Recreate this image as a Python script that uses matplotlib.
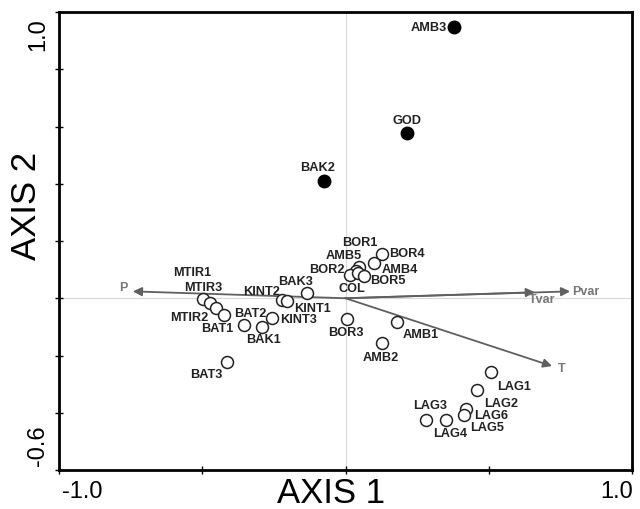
import matplotlib
matplotlib.use("Agg")
import matplotlib.pyplot as plt

plt.rcParams['font.family'] = ['Liberation Sans', 'DejaVu Sans']

# site scores (axis 1, axis 2)
sites = ['AMB3', 'GOD', 'BAK2',
         'BOR1', 'AMB5', 'BOR2', 'COL', 'BOR5', 'AMB4', 'BOR4',
         'BAK3', 'KINT2', 'KINT1', 'KINT3',
         'MTIR1', 'MTIR3', 'MTIR2', 'BAT1', 'BAT2', 'BAK1', 'BAT3',
         'BOR3', 'AMB1', 'AMB2',
         'LAG1', 'LAG2', 'LAG6', 'LAG5', 'LAG3', 'LAG4']
site_x = [0.379, 0.215, -0.075,
          0.047, 0.037, 0.016, 0.044, 0.065, 0.099, 0.127,
          -0.134, -0.222, -0.204, -0.257,
          -0.497, -0.473, -0.452, -0.424, -0.354, -0.291, -0.414,
          0.005, 0.180, 0.127,
          0.508, 0.459, 0.421, 0.414, 0.281, 0.351]
site_y = [0.946, 0.576, 0.408,
          0.108, 0.094, 0.080, 0.087, 0.077, 0.122, 0.154,
          0.017, -0.007, -0.010, -0.070,
          -0.003, -0.017, -0.035, -0.059, -0.094, -0.101, -0.223,
          -0.073, -0.084, -0.157,
          -0.258, -0.321, -0.387, -0.408, -0.426, -0.426]
filled = ['AMB3', 'GOD', 'BAK2']

# environmental variable arrows
env_vars = ['P', 'Pvar', 'Tvar', 'T']
env_x = [-0.742, 0.784, 0.661, 0.721]
env_y = [0.024, 0.024, 0.021, -0.237]

# label placement: (dx, dy) in pixels, horizontal alignment
site_lab = {
    'AMB3': (-7, 0, 'right'), 'GOD': (0, 13, 'center'), 'BAK2': (-6, 14, 'center'),
    'BOR1': (1, 25, 'center'), 'AMB5': (-12, 16, 'center'), 'BOR2': (-5, 6, 'right'),
    'COL': (-6, -15, 'center'), 'BOR5': (6, -4, 'left'), 'AMB4': (8, -6, 'left'),
    'BOR4': (7, 1, 'left'), 'BAK3': (-12, 12, 'center'), 'KINT2': (-2, 9, 'right'),
    'KINT1': (7, -7, 'left'), 'KINT3': (8, -1, 'left'), 'MTIR1': (-11, 27, 'center'),
    'MTIR3': (-7, 16, 'center'), 'MTIR2': (-8, -9, 'right'), 'BAT1': (-7, -13, 'center'),
    'BAT2': (6, 12, 'center'), 'BAK1': (1, -12, 'center'), 'BAT3': (-21, -12, 'center'),
    'BOR3': (-1, -13, 'center'), 'AMB1': (6, -12, 'left'), 'AMB2': (-1, -14, 'center'),
    'LAG1': (6, -14, 'left'), 'LAG2': (7, -13, 'left'), 'LAG6': (8, -6, 'left'),
    'LAG5': (6, -12, 'left'), 'LAG3': (4, 15, 'center'), 'LAG4': (4, -13, 'center'),
}
env_lab = {'P': (-5, 4, 'right'), 'Pvar': (2, 0, 'left'),
           'Tvar': (7, -7, 'center'), 'T': (6, -2, 'left')}

W, H = 640, 510
fig = plt.figure(figsize=(6.4, 5.1), dpi=100)
ax = fig.add_axes([59 / W, 39 / H, 573 / W, 458 / H])
ax.set_xlim(-1.0, 1.0)
ax.set_ylim(-0.6, 1.0)

ax.axhline(0, color='#d8d8d8', lw=0.8, zorder=0)
ax.axvline(0, color='#d8d8d8', lw=0.8, zorder=0)

grey = '#606060'
for name, x, y in zip(env_vars, env_x, env_y):
    ax.annotate('', xy=(x, y), xytext=(0, 0),
                arrowprops=dict(arrowstyle='-|>', color=grey, lw=1.3,
                                mutation_scale=13, shrinkA=0, shrinkB=0))
    dx, dy, ha = env_lab[name]
    ax.annotate(name, (x, y), xytext=(dx, dy), textcoords='offset pixels',
                ha=ha, va='center', fontsize=9, fontweight='bold',
                color='#777777')

for name, x, y in zip(sites, site_x, site_y):
    if name in filled:
        ax.plot(x, y, 'o', ms=9, mfc='black', mec='black', zorder=4)
    else:
        ax.plot(x, y, 'o', ms=8.6, mfc='white', mec='#222222', mew=1.1, zorder=3)
    dx, dy, ha = site_lab[name]
    ax.annotate(name, (x, y), xytext=(dx, dy), textcoords='offset pixels',
                ha=ha, va='center', fontsize=9.2, fontweight='bold',
                color='#222222', zorder=5)

ax.set_xticks([-1.0, -0.5, 0.0, 0.5, 1.0])
ax.set_yticks([-0.6, -0.4, -0.2, 0.0, 0.2, 0.4, 0.6, 0.8, 1.0])
ax.tick_params(direction='inout', length=6, width=1,
               labelbottom=False, labelleft=False)
for s in ax.spines.values():
    s.set_linewidth(2)

# end tick labels and axis titles
fig.text(62 / W, 1 - 492 / H, '-1.0', ha='left', va='center', fontsize=17)
fig.text(633 / W, 1 - 492 / H, '1.0', ha='right', va='center', fontsize=17)
fig.text(38 / W, 1 - 18 / H, '1.0', ha='center', va='top', rotation=90, fontsize=17)
fig.text(38 / W, 1 - 466 / H, '-0.6', ha='center', va='bottom', rotation=90, fontsize=17)
fig.text(331 / W, 1 - 494 / H, 'AXIS 1', ha='center', va='center', fontsize=25)
fig.text(26 / W, 1 - 206 / H, 'AXIS 2', ha='center', va='center', rotation=90, fontsize=25)

fig.savefig('out.png', dpi=100)
